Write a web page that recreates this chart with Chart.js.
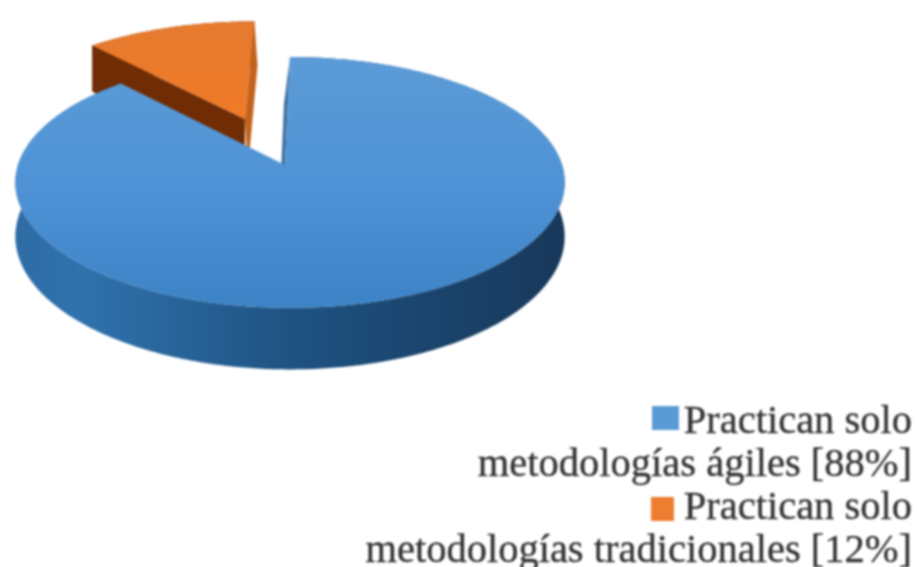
<!DOCTYPE html>
<html><head><meta charset="utf-8">
<script src="https://cdn.jsdelivr.net/npm/chart.js@4"></script>
<style>
html,body{margin:0;padding:0;background:#fff;width:917px;height:567px;overflow:hidden}
#wrap{position:relative;width:917px;height:567px;filter:blur(.9px)}
canvas{position:absolute;left:0;top:0}
.line{position:absolute;right:5px;white-space:nowrap;font-family:"Liberation Serif",serif;font-size:40.5px;line-height:43px;color:#333;-webkit-text-stroke:.35px #333}
.sw{position:absolute;height:24px;-webkit-text-stroke:0}
</style></head><body>
<div id="wrap"><canvas id="c" width="917" height="567"></canvas><div id="legend"></div></div>
<script>
const categories = ['Practican solo metodologías ágiles', 'Practican solo metodologías tradicionales'];
const legendLines = [['Practican solo', 'metodologías ágiles [88%]'], ['Practican solo', 'metodologías tradicionales [12%]']];
const values = [88, 12];
const colors = ['#5b9bd5', '#ed7d31'];
const offsets = [0, 99];
const swatchWidths = [27, 23];
const swatchGaps = [5, 10];
const swatchTops = [8, 13];

const CX = 285, CY = 165, A = 272, B = 123, K = 0.139, SH = 5, DEPTH = 53;
const shades = {
  '#5b9bd5': {top: ['#5b9bd6', '#4f93d6', '#3c83c6'], rim: ['#2e6ca5', '#3072ad', '#1f5382', '#1b4670', '#18385a'], faceStart: '#3f6f9f', faceEnd: null, dxStart: -6, dxEnd: 0},
  '#ed7d31': {top: ['#e47a30', '#f27a26', '#ea7a2a'], rim: ['#5b2404', '#6a2a05', '#7a3206', '#7a3206', '#5a2000'], faceStart: '#6f2c05', faceEnd: '#c2621c', dxStart: 0, dxEnd: 3}
};

function project(u, v, z, r, dx) {
  const w = 1 + K * v;
  return [CX + A * u / w + SH * r + z * dx, CY - B * v / w + z * DEPTH / w];
}
function poly(ctx, pts, fill) {
  ctx.beginPath();
  pts.forEach((p, i) => i ? ctx.lineTo(p[0], p[1]) : ctx.moveTo(p[0], p[1]));
  ctx.closePath();
  ctx.fillStyle = fill;
  ctx.fill();
}
Chart.ArcElement.prototype.draw = function (ctx) {
  const t1 = this.startAngle + Math.PI / 2, t2 = this.endAngle + Math.PI / 2;
  const mid = (t1 + t2) / 2, d = (this.options.offset || 0) / this.outerRadius;
  const du = d * Math.sin(mid), dv = d * Math.cos(mid);
  const s = shades[this.options.backgroundColor];
  const at = (t, r, z, dx) => project(du + r * Math.sin(t), dv + r * Math.cos(t), z, r, dx || 0);
  const rimGrad = ctx.createLinearGradient(15, 0, 565, 0);
  [0, .12, .5, .72, 1].forEach((o, i) => rimGrad.addColorStop(o, s.rim[i]));
  const grad = ctx.createLinearGradient(0, 57 + dv * -B, 0, 308 + dv * -B);
  s.top.forEach((c, i) => grad.addColorStop(i / 2, c));
  const n = Math.max(4, Math.ceil((t2 - t1) * 90));
  const top = [], low = [];
  for (let i = 0; i <= n; i++) {
    const t = t1 + (t2 - t1) * i / n;
    top.push(at(t, 1, 0));
    low.push(at(t, 1, 1));
  }
  ctx.save();
  poly(ctx, top.concat(low.slice().reverse()), rimGrad);
  if (s.faceEnd) poly(ctx, [at(t2, 0, 0), at(t2, 1, 0), at(t2, 1, 1, s.dxEnd), at(t2, 0, 1, s.dxEnd)], s.faceEnd);
  if (s.faceStart) poly(ctx, [at(t1, 0, 0), at(t1, 1, 0), at(t1, 1, 1, s.dxStart), at(t1, 0, 1, s.dxStart)], s.faceStart);
  poly(ctx, [at(t1, 0, 0)].concat(top), grad);
  ctx.restore();
};
Chart.DoughnutController.prototype.draw = function () {
  const ctx = this.chart.ctx, els = this._cachedMeta.data;
  for (let i = els.length - 1; i >= 0; i--) els[i].draw(ctx);
};
new Chart(document.getElementById('c'), {
  type: 'pie',
  data: {labels: categories, datasets: [{data: values, backgroundColor: colors, offset: offsets, borderWidth: 0}]},
  options: {responsive: false, animation: false, events: [], layout: {padding: 0},
    plugins: {legend: {display: false}, tooltip: {enabled: false}}}
});
const tops = [398, 441, 484, 527];
const legend = document.getElementById('legend');
legendLines.forEach((lines, i) => lines.forEach((t, j) => {
  const el = document.createElement('div');
  el.className = 'line';
  el.style.top = tops[i * 2 + j] + 'px';
  el.appendChild(document.createTextNode(t));
  if (j === 0) {
    const sw = document.createElement('span');
    sw.className = 'sw';
    sw.style.background = colors[i];
    sw.style.width = swatchWidths[i] + 'px';
    sw.style.top = swatchTops[i] + 'px';
    sw.style.right = 'calc(100% + ' + swatchGaps[i] + 'px)';
    el.appendChild(sw);
  }
  legend.appendChild(el);
}));
</script>
</body></html>
